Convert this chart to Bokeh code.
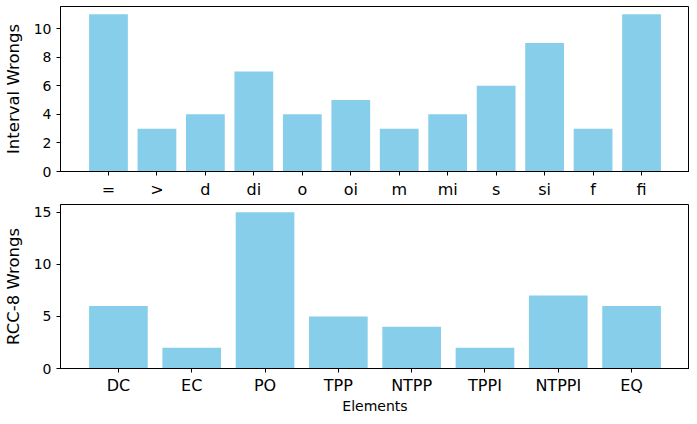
from bokeh.plotting import figure
from bokeh.layouts import column
from bokeh.models import Range1d, FixedTicker
from bokeh.embed import file_html
from bokeh.resources import INLINE

interval_labels = ["=", ">", "d", "di", "o", "oi", "m", "mi", "s", "si", "f", "fi"]
interval_values = [11, 3, 4, 7, 4, 5, 3, 4, 6, 9, 3, 11]
rcc_labels = ["DC", "EC", "PO", "TPP", "NTPP", "TPPI", "NTPPI", "EQ"]
rcc_values = [6, 2, 15, 5, 4, 2, 7, 6]

FONT = "DejaVu Sans"
COLOR = "#87CEEB"


def make(labels, values, ylabel, yticks, height, top, bottom, xlabel=None):
    n = len(labels)
    xs = list(range(n))
    span = (n - 1) + 0.8
    m = span * 0.05
    p = figure(width=689, height=height, output_backend="svg", toolbar_location=None,
               x_range=Range1d(-0.4 - m, n - 1 + 0.4 + m),
               y_range=Range1d(0, max(values) * 1.05),
               min_border_left=58, min_border_right=0,
               min_border_top=top, min_border_bottom=bottom)
    p.vbar(x=xs, top=values, width=0.8, bottom=0, fill_color=COLOR, line_color=None)
    p.xgrid.visible = False
    p.ygrid.visible = False
    p.outline_line_color = "black"
    p.outline_line_width = 1
    p.xaxis.ticker = FixedTicker(ticks=xs)
    p.xaxis.major_label_overrides = {i: l for i, l in enumerate(labels)}
    p.yaxis.ticker = FixedTicker(ticks=yticks)
    for ax in (p.xaxis, p.yaxis):
        ax.major_tick_in = 0
        ax.major_tick_out = 4
        ax.minor_tick_line_color = None
        ax.axis_line_color = "black"
        ax.major_tick_line_color = "black"
        ax.major_label_text_font = FONT
        ax.major_label_text_color = "black"
        ax.axis_label_text_font = FONT
        ax.axis_label_text_font_style = "normal"
        ax.axis_label_text_color = "black"
        ax.major_label_text_line_height = 1.0
        ax.axis_label_text_line_height = 1.0
    p.xaxis.major_label_text_font_size = "16px"
    p.yaxis.major_label_text_font_size = "14px"
    p.yaxis.axis_label = ylabel
    p.yaxis.axis_label_text_font_size = "16.5px"
    p.yaxis.axis_label_standoff = 8
    p.xaxis.major_label_standoff = 4
    if xlabel:
        p.xaxis.major_label_standoff = 3
        p.xaxis.axis_label = xlabel
        p.xaxis.axis_label_text_font_size = "14px"
        p.xaxis.axis_label_standoff = 0
    return p


p1 = make(interval_labels, interval_values, "Interval Wrongs", [0, 2, 4, 6, 8, 10], 202, 6, 31)
p2 = make(rcc_labels, rcc_values, "RCC-8 Wrongs", [0, 5, 10, 15], 214, 2, 40, xlabel="Elements")
layout = column(p1, p2, spacing=0)

open("out.html", "w").write(file_html(layout, INLINE))
